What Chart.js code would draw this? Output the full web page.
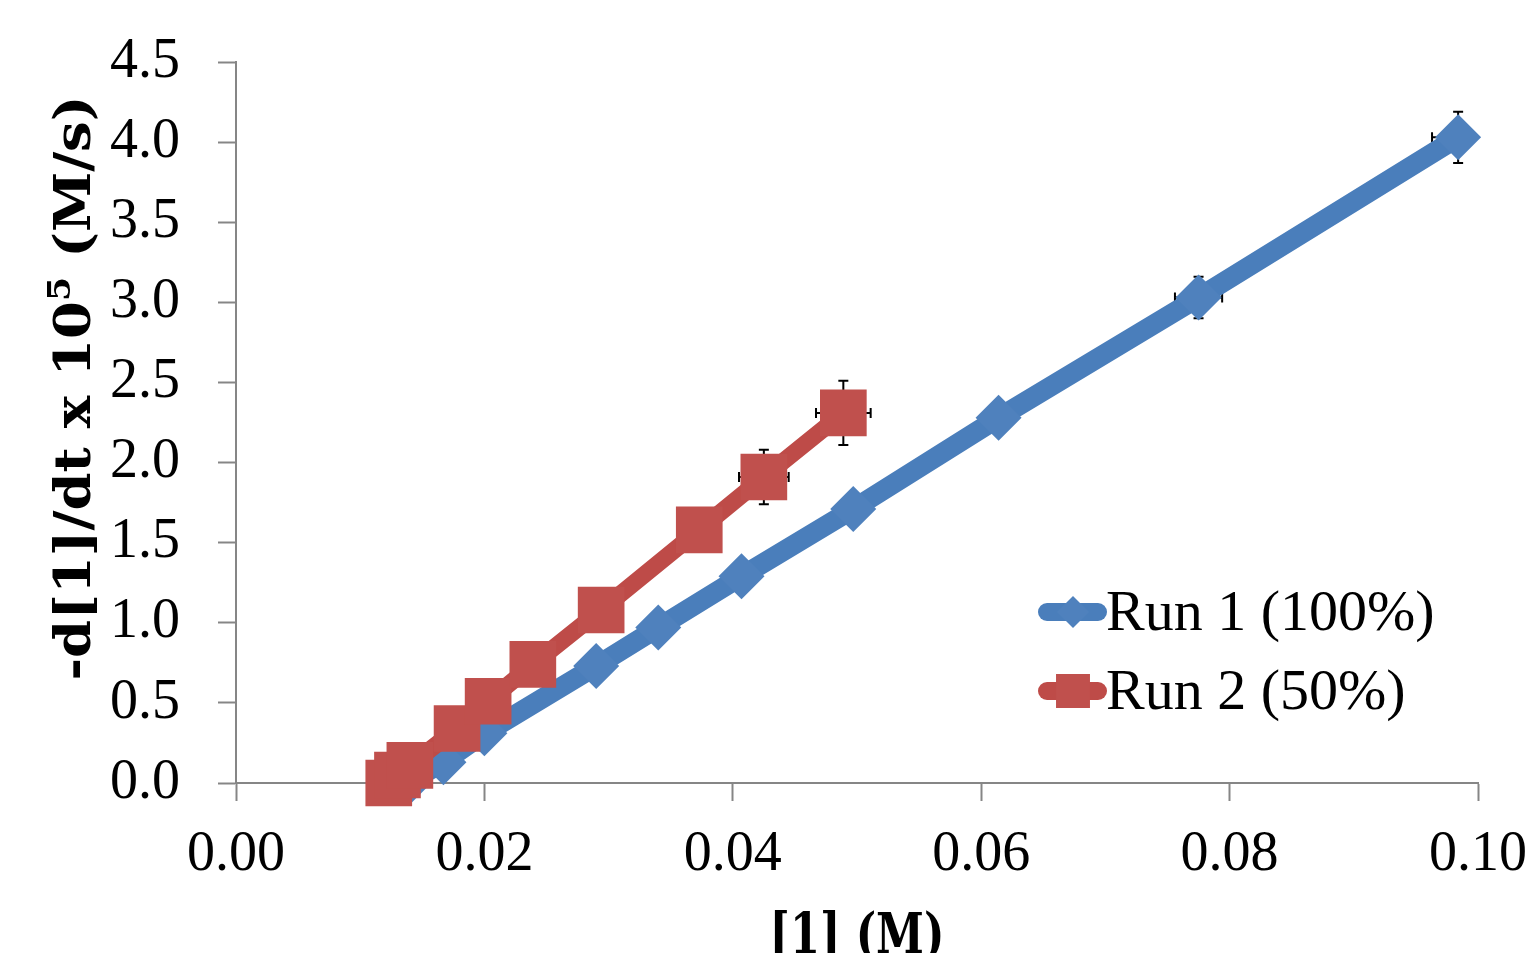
<!DOCTYPE html>
<html>
<head>
<meta charset="utf-8">
<script src="https://cdn.jsdelivr.net/npm/chart.js@4.4.0/dist/chart.umd.min.js"></script>
<style>
  html, body { margin: 0; padding: 0; background: #fff; overflow: hidden; }
  canvas { display: block; }
</style>
</head>
<body>
<canvas id="chart" width="1532" height="953"></canvas>
<script>
// Run 1 (100%)
const run1X = [0.0140, 0.0167, 0.0200, 0.0290, 0.0340, 0.0407, 0.0497, 0.0614, 0.0775, 0.0984];
const run1Y = [0.01, 0.13, 0.31, 0.73, 0.97, 1.29, 1.71, 2.28, 3.03, 4.03];
const run1XErr = [0, 0, 0, 0, 0, 0, 0, 0, 0.0019, 0.0021];
const run1YErr = [0, 0, 0, 0, 0, 0, 0, 0, 0.13, 0.16];

// Run 2 (50%)
const run2X = [0.0123, 0.0130, 0.0140, 0.0178, 0.0203, 0.0239, 0.0294, 0.0373, 0.0425, 0.0489];
const run2Y = [0.00, 0.05, 0.11, 0.34, 0.51, 0.74, 1.08, 1.58, 1.91, 2.31];
const run2XErr = [0, 0, 0, 0, 0, 0, 0, 0, 0.0020, 0.0022];
const run2YErr = [0, 0, 0, 0, 0, 0, 0, 0, 0.17, 0.20];

const seriesNames = ["Run 1 (100%)", "Run 2 (50%)"];

const xTicks = [0, 0.02, 0.04, 0.06, 0.08, 0.10];
const xTickLabels = ["0.00", "0.02", "0.04", "0.06", "0.08", "0.10"];
const yTicks = [0, 0.5, 1.0, 1.5, 2.0, 2.5, 3.0, 3.5, 4.0, 4.5];
const yTickLabels = ["0.0", "0.5", "1.0", "1.5", "2.0", "2.5", "3.0", "3.5", "4.0", "4.5"];

const xTitle = "[1] (M)";
const yTitleParts = ["-d[1]/dt x 10", "5", " (M/s)"];

const toPoints = (xs, ys) => xs.map((x, i) => ({ x: x, y: ys[i] }));

const tickFont = { family: "'Liberation Serif', serif", size: 56 };
const axisGray = "#868686";

// error bars, drawn under the series and clipped to the plot area
const errorBars = {
  id: "errorBars",
  beforeDatasetsDraw(chart) {
    const ctx = chart.ctx;
    const area = chart.chartArea;
    const xs = chart.scales.x;
    const ys = chart.scales.y;
    const cap = 5;
    ctx.save();
    ctx.beginPath();
    ctx.rect(area.left, area.top, area.right - area.left, area.bottom - area.top);
    ctx.clip();
    ctx.strokeStyle = "#000000";
    ctx.lineWidth = 2;
    chart.data.datasets.forEach((ds) => {
      ds.data.forEach((p, i) => {
        const ex = ds.xErr[i];
        const ey = ds.yErr[i];
        const px = xs.getPixelForValue(p.x);
        const py = ys.getPixelForValue(p.y);
        ctx.beginPath();
        if (ey) {
          const t = ys.getPixelForValue(p.y + ey);
          const b = ys.getPixelForValue(p.y - ey);
          ctx.moveTo(px, t); ctx.lineTo(px, b);
          ctx.moveTo(px - cap, t); ctx.lineTo(px + cap, t);
          ctx.moveTo(px - cap, b); ctx.lineTo(px + cap, b);
        }
        if (ex) {
          const l = xs.getPixelForValue(p.x - ex);
          const r = xs.getPixelForValue(p.x + ex);
          ctx.moveTo(l, py); ctx.lineTo(r, py);
          ctx.moveTo(l, py - cap); ctx.lineTo(l, py + cap);
          ctx.moveTo(r, py - cap); ctx.lineTo(r, py + cap);
        }
        ctx.stroke();
      });
    });
    ctx.restore();
  },
};

// legend with line + marker, to the right of the plot
const lineLegend = {
  id: "lineLegend",
  afterDraw(chart) {
    const ctx = chart.ctx;
    const rows = [612, 691];
    ctx.save();
    chart.data.datasets.forEach((ds, i) => {
      const y = rows[i];
      ctx.strokeStyle = ds.borderColor;
      ctx.lineWidth = 18;
      ctx.lineCap = "round";
      ctx.beginPath();
      ctx.moveTo(1047, y);
      ctx.lineTo(1098, y);
      ctx.stroke();
      ctx.fillStyle = ds.pointBackgroundColor;
      Chart.helpers.drawPoint(ctx, {
        pointStyle: ds.pointStyle,
        radius: ds.pointStyle === "rect" ? 24 : 16,
        rotation: 0,
        borderWidth: 0,
      }, 1073, y);
      ctx.fillStyle = "#000000";
      ctx.font = "58px 'Liberation Serif', serif";
      ctx.textBaseline = "alphabetic";
      ctx.textAlign = "left";
      ctx.fillText(ds.label, 1106, y + 18);
    });
    ctx.restore();
  },
};

// axis titles: y rotated with a superscript, x cut by the bottom edge
const axisTitles = {
  id: "axisTitles",
  afterDraw(chart) {
    const ctx = chart.ctx;
    const big = "bold 50px 'DejaVu Serif', serif";
    const small = "bold 32px 'DejaVu Serif', serif";
    ctx.save();
    ctx.fillStyle = "#000000";
    ctx.textBaseline = "alphabetic";
    ctx.textAlign = "left";
    ctx.font = big;
    const w0 = ctx.measureText(yTitleParts[0]).width;
    const w2 = ctx.measureText(yTitleParts[2]).width;
    ctx.font = small;
    const w1 = ctx.measureText(yTitleParts[1]).width;
    const total = w0 + w1 + w2;
    ctx.translate(90, 388);
    ctx.rotate(-Math.PI / 2);
    ctx.scale(585 / total, 1);
    let u = -total / 2;
    ctx.font = big;
    ctx.fillText(yTitleParts[0], u, 0);
    u += w0;
    ctx.font = small;
    ctx.fillText(yTitleParts[1], u, -20);
    u += w1;
    ctx.font = big;
    ctx.fillText(yTitleParts[2], u, 0);
    ctx.restore();

    ctx.save();
    ctx.fillStyle = "#000000";
    ctx.textBaseline = "alphabetic";
    ctx.textAlign = "left";
    ctx.font = "bold 56px 'DejaVu Serif', serif";
    const wx = ctx.measureText(xTitle).width;
    const cx = (chart.chartArea.left + chart.chartArea.right) / 2;
    ctx.translate(cx, 953);
    ctx.scale(175 / wx, 1);
    ctx.fillText(xTitle, -wx / 2, 0);
    ctx.restore();
  },
};

new Chart(document.getElementById("chart"), {
  type: "scatter",
  data: {
    datasets: [
      {
        label: seriesNames[0],
        data: toPoints(run1X, run1Y),
        xErr: run1XErr,
        yErr: run1YErr,
        showLine: true,
        borderColor: "#4A7EBB",
        borderWidth: 20,
        borderCapStyle: "round",
        borderJoinStyle: "round",
        pointStyle: "rectRot",
        pointRadius: 23,
        pointBackgroundColor: "#4F81BD",
        pointBorderWidth: 0,
        pointHoverRadius: 23,
        clip: false,
        order: 2,
      },
      {
        label: seriesNames[1],
        data: toPoints(run2X, run2Y),
        xErr: run2XErr,
        yErr: run2YErr,
        showLine: true,
        borderColor: "#BE4B48",
        borderWidth: 17,
        borderCapStyle: "round",
        borderJoinStyle: "round",
        pointStyle: "rect",
        pointRadius: 33,
        pointBackgroundColor: "#C0504D",
        pointBorderWidth: 0,
        pointHoverRadius: 33,
        clip: false,
        order: 1,
      },
    ],
  },
  options: {
    responsive: false,
    animation: false,
    events: [],
    layout: { padding: { left: 0, right: 54, top: 62, bottom: 0 } },
    plugins: {
      legend: { display: false },
      tooltip: { enabled: false },
    },
    scales: {
      x: {
        type: "linear",
        min: 0,
        max: 0.1,
        afterFit: (scale) => {
          scale.height = 170;
          scale.paddingLeft = 0;
          scale.paddingRight = 0;
        },
        afterBuildTicks: (scale) => { scale.ticks = xTicks.map((v) => ({ value: v })); },
        ticks: {
          font: tickFont,
          color: "#000000",
          padding: 21,
          maxRotation: 0,
          callback: (v) => xTickLabels[xTicks.findIndex((t) => Math.abs(t - v) < 1e-9)],
        },
        grid: {
          drawOnChartArea: false,
          drawTicks: true,
          tickLength: 18,
          tickColor: axisGray,
          tickWidth: 2,
        },
        border: { display: true, color: axisGray, width: 2 },
      },
      y: {
        type: "linear",
        min: 0,
        max: 4.5,
        afterFit: (scale) => {
          scale.width = 236;
          scale.paddingTop = 0;
          scale.paddingBottom = 0;
        },
        afterBuildTicks: (scale) => { scale.ticks = yTicks.map((v) => ({ value: v })); },
        ticks: {
          font: tickFont,
          color: "#000000",
          padding: 38,
          callback: (v) => yTickLabels[yTicks.findIndex((t) => Math.abs(t - v) < 1e-9)],
        },
        grid: {
          drawOnChartArea: false,
          drawTicks: true,
          tickLength: 18,
          tickColor: axisGray,
          tickWidth: 2,
        },
        border: { display: true, color: axisGray, width: 2 },
      },
    },
  },
  plugins: [errorBars, lineLegend, axisTitles],
});
</script>
</body>
</html>
